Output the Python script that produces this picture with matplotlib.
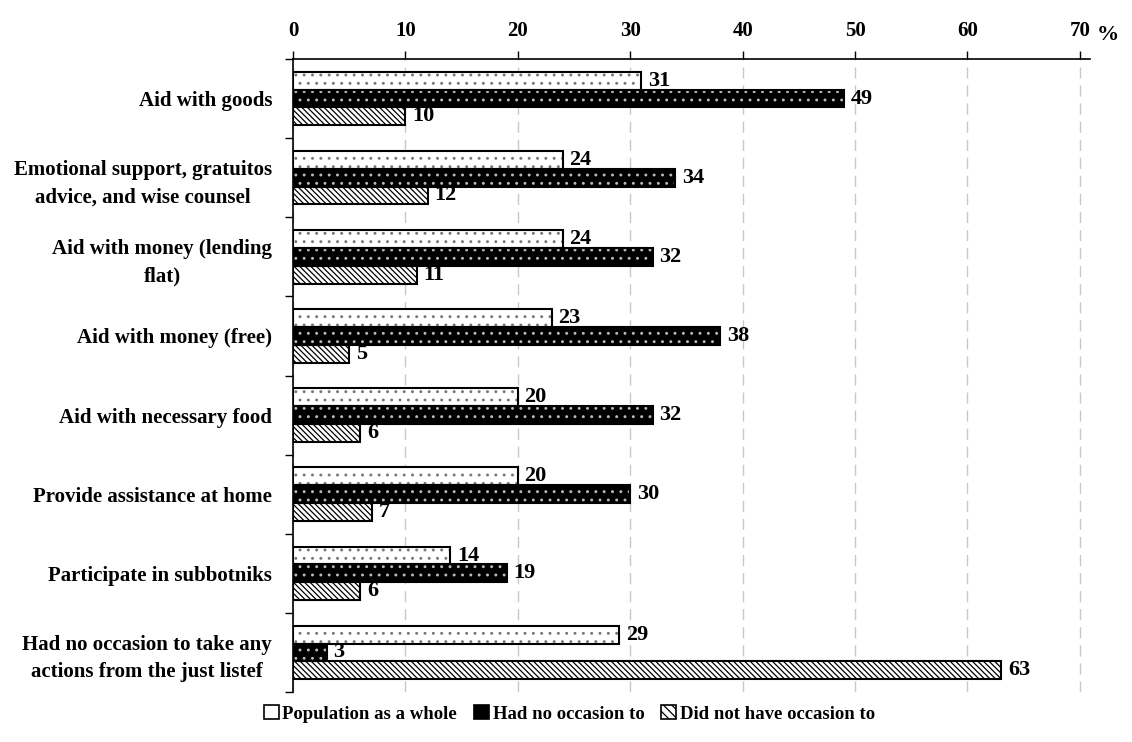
import numpy as np
import matplotlib
matplotlib.use("Agg")
import matplotlib.pyplot as plt
from matplotlib.patches import Patch

plt.rcParams["font.family"] = ["Liberation Serif", "DejaVu Serif"]
plt.rcParams["font.weight"] = "bold"
plt.rcParams["hatch.linewidth"] = 0.9

categories = [
    "Aid with goods",
    "Emotional support, gratuitos\nadvice, and wise counsel",
    "Aid with money (lending\nflat)",
    "Aid with money (free)",
    "Aid with necessary food",
    "Provide assistance at home",
    "Participate in subbotniks",
    "Had no occasion to take any\nactions from the just listef",
]
population = [31, 24, 24, 23, 20, 20, 14, 29]
no_occasion = [49, 34, 32, 38, 32, 30, 19, 3]
not_have_occasion = [10, 12, 11, 5, 6, 7, 6, 63]
series_names = ["Population as a whole", "Had no occasion to", "Did not have occasion to"]

fig = plt.figure(figsize=(11.32, 7.42), dpi=100)
ax = fig.add_axes([293 / 1132, 1 - 692 / 742, (1090 - 293) / 1132, (692 - 59) / 742])

y = np.arange(len(categories))
h = 0.225
edge_lw = 1.5

# population: white with fine grey dots, outline on top
ax.barh(y - h, population, height=h, facecolor="white", edgecolor="#777777",
        hatch="..", linewidth=0, zorder=3)
ax.barh(y - h, population, height=h, fill=False, edgecolor="black",
        linewidth=edge_lw, zorder=4)

# no occasion: black with light dots, outline on top
ax.barh(y, no_occasion, height=h, facecolor="black", edgecolor="#bbbbbb",
        hatch="..", linewidth=0, zorder=3)
ax.barh(y, no_occasion, height=h, fill=False, edgecolor="black",
        linewidth=edge_lw, zorder=4)

# did not have occasion: dense diagonal lines
ax.barh(y + h, not_have_occasion, height=h, facecolor="white", edgecolor="black",
        hatch="\\\\\\\\\\\\", linewidth=edge_lw, zorder=3)

for offset, vals in zip((-h, 0, h), (population, no_occasion, not_have_occasion)):
    for yi, v in zip(y, vals):
        ax.text(v + 0.6, yi + offset, str(v), va="center", ha="left",
                fontsize=16, fontweight="bold", zorder=5)

ax.set_xlim(0, 70.9)
ax.set_ylim(len(categories) - 0.5, -0.5)

ax.xaxis.tick_top()
ax.set_xticks(np.arange(0, 71, 10))
ax.set_xticklabels([str(t) for t in range(0, 71, 10)], fontsize=15, fontweight="bold")
ax.tick_params(axis="x", direction="out", length=6, width=1, pad=7)
fig.text(1097 / 1132, 1 - 35 / 742, "%", fontsize=16, fontweight="bold",
         ha="left", va="center")

ax.set_yticks(y)
ax.set_yticklabels(categories, fontsize=15, fontweight="bold",
                   multialignment="center", linespacing=1.5)
ax.tick_params(axis="y", which="major", length=0, pad=15)
ax.set_yticks(np.arange(-0.5, len(categories), 1.0), minor=True)
ax.tick_params(axis="y", which="minor", length=6, width=1, direction="out")

ax.grid(axis="x", linestyle=(0, (8, 5)), color="#c8c8c8", linewidth=1, zorder=0)
ax.set_axisbelow(True)

for side in ("right", "bottom"):
    ax.spines[side].set_visible(False)
ax.spines["top"].set_linewidth(1.2)
ax.spines["left"].set_linewidth(1.2)

handles = [
    Patch(facecolor="white", edgecolor="black", linewidth=1.2),
    Patch(facecolor="black", edgecolor="black", linewidth=1.2),
    Patch(facecolor="white", edgecolor="black", hatch="\\\\\\\\", linewidth=1.2),
]
fig.legend(handles, series_names, loc="center", bbox_to_anchor=(0.503, 0.038),
           ncol=3, frameon=False, handlelength=0.8, handleheight=0.8,
           handletextpad=0.2, columnspacing=0.9, prop={"weight": "bold", "size": 13.5})

fig.savefig("out.png", dpi=100)
